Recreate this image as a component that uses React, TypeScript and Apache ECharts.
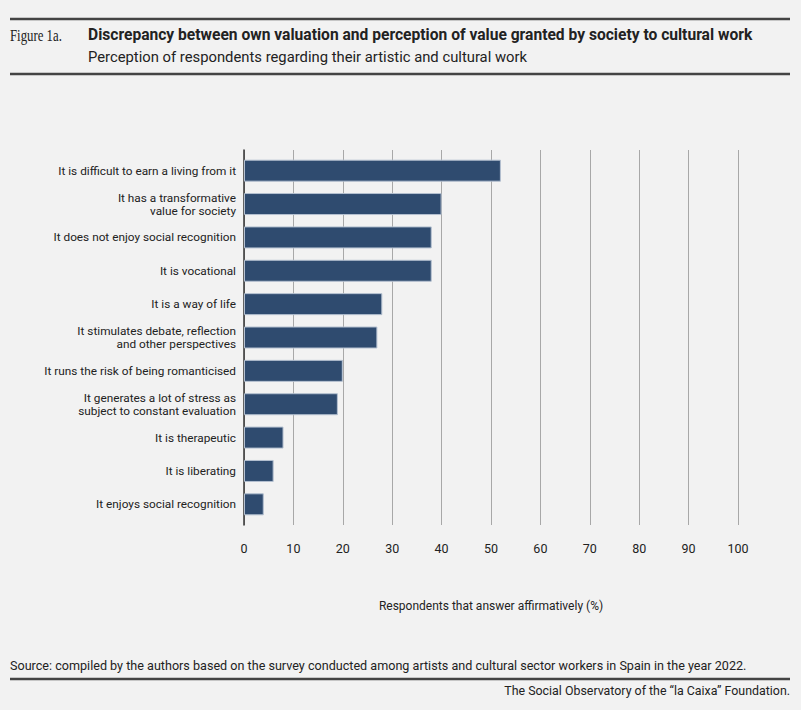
import React, { useEffect, useRef } from "react";
import * as echarts from "echarts";

const categories = [
  "It is difficult to earn a living from it",
  "It has a transformative\nvalue for society",
  "It does not enjoy social recognition",
  "It is vocational",
  "It is a way of life",
  "It stimulates debate, reflection\nand other perspectives",
  "It runs the risk of being romanticised",
  "It generates a lot of stress as\nsubject to constant evaluation",
  "It is therapeutic",
  "It is liberating",
  "It enjoys social recognition",
];
const values = [52, 40, 38, 38, 28, 27, 20, 19, 8, 6, 4];

const FONT = "'Roboto', sans-serif";
const INK = "#222";

const App: React.FC = () => {
  const chartRef = useRef<HTMLDivElement>(null);

  useEffect(() => {
    if (!chartRef.current) return;
    const chart = echarts.init(chartRef.current, null, { renderer: "svg" });

    chart.setOption({
      animation: false,
      backgroundColor: "#f2f2f2",
      textStyle: { fontFamily: FONT, color: INK },
      graphic: [
        { type: "line", shape: { x1: 10, y1: 19, x2: 790, y2: 19 }, style: { stroke: "#444", lineWidth: 2.5 } },
        { type: "line", shape: { x1: 10, y1: 74, x2: 790, y2: 74 }, style: { stroke: "#444", lineWidth: 2.5 } },
        {
          // condensed serif label, squeezed horizontally
          type: "text", x: 10, y: 35, scaleX: 0.8,
          style: { text: "Figure 1a.", font: "16px 'Liberation Serif', serif", fill: INK, verticalAlign: "middle" },
        },
        {
          type: "text", x: 88, y: 35,
          style: {
            text: "Discrepancy between own valuation and perception of value granted by society to cultural work",
            font: `bold 15.6px ${FONT}`, fill: INK, verticalAlign: "middle",
          },
        },
        {
          type: "text", x: 88, y: 57,
          style: {
            text: "Perception of respondents regarding their artistic and cultural work",
            font: `14.8px ${FONT}`, fill: INK, verticalAlign: "middle",
          },
        },
        {
          type: "text", x: 10, y: 665,
          style: {
            text: "Source: compiled by the authors based on the survey conducted among artists and cultural sector workers in Spain in the year 2022.",
            font: `12.6px ${FONT}`, fill: INK, verticalAlign: "middle",
          },
        },
        { type: "line", shape: { x1: 10, y1: 679, x2: 790, y2: 679 }, style: { stroke: "#444", lineWidth: 2.5 } },
        {
          type: "text", x: 790, y: 690,
          style: {
            text: "The Social Observatory of the \u201cla Caixa\u201d Foundation.",
            font: `12.4px ${FONT}`, fill: INK, align: "right", verticalAlign: "middle",
          },
        },
      ],
      grid: [
        { left: 244, width: 494, top: 150, height: 375 },
        { left: 244, width: 494, top: 154, height: 367 },
      ],
      xAxis: [
        {
          gridIndex: 0,
          type: "value",
          min: 0,
          max: 100,
          interval: 10,
          axisLine: { show: false },
          axisTick: { show: false },
          splitLine: { show: true, lineStyle: { color: "#a8a8a8", width: 1 } },
          axisLabel: { margin: 17, fontSize: 12.5, color: INK, fontFamily: FONT },
          name: "Respondents that answer affirmatively (%)",
          nameLocation: "middle",
          nameGap: 75,
          nameTextStyle: { fontSize: 12, color: INK, fontFamily: FONT },
        },
        { gridIndex: 1, type: "value", min: 0, max: 100, show: false },
      ],
      yAxis: [
        {
          gridIndex: 0,
          type: "value",
          min: 0,
          max: 1,
          axisLine: { show: true, lineStyle: { color: "#333", width: 1.5 } },
          axisTick: { show: false },
          axisLabel: { show: false },
          splitLine: { show: false },
        },
        {
          gridIndex: 1,
          type: "category",
          inverse: true,
          data: categories,
          axisLine: { show: false },
          axisTick: { show: false },
          axisLabel: { margin: 8, fontSize: 11.8, lineHeight: 13, color: INK, fontFamily: FONT, align: "right" },
        },
      ],
      series: [
        {
          type: "bar",
          xAxisIndex: 1,
          yAxisIndex: 1,
          data: values,
          barWidth: 22,
          itemStyle: { color: "#2f4b6f", borderColor: "#b4c0d0", borderWidth: 1 },
        },
      ],
    });

    return () => chart.dispose();
  }, []);

  return (
    <div
      ref={chartRef}
      style={{ position: "fixed", left: 0, top: 0, width: 801, height: 710, background: "#f2f2f2" }}
    />
  );
};

export default App;
